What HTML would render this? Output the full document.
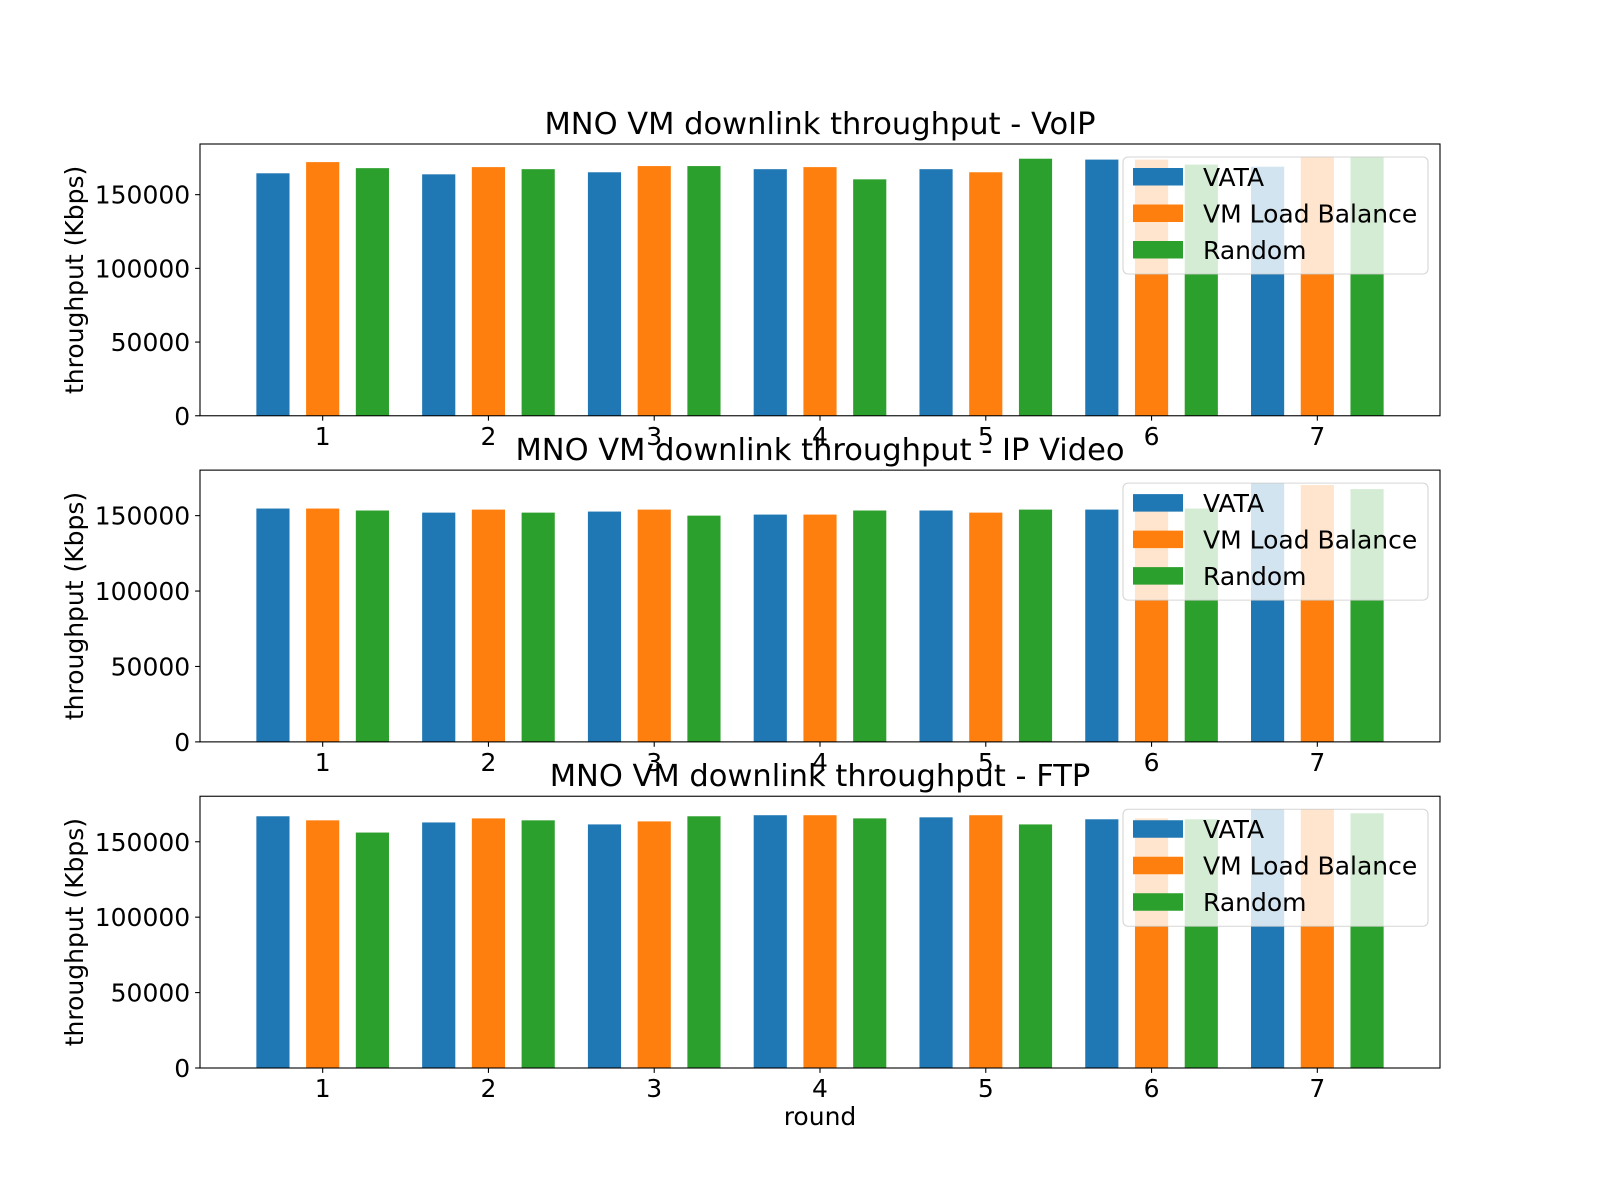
<!DOCTYPE html>
<html><head><meta charset="utf-8"><title>MNO VM downlink throughput</title>
<style>html,body{margin:0;padding:0;background:#fff}svg{display:block}text{font-family:"DejaVu Sans","Liberation Sans",sans-serif;fill:#000}</style>
</head><body>
<svg id="chart" width="1600" height="1200" xmlns="http://www.w3.org/2000/svg"></svg>
<script>
const categories = [1, 2, 3, 4, 5, 6, 7];
const seriesNames = ["VATA", "VM Load Balance", "Random"];
const panelTitles = ["MNO VM downlink throughput - VoIP", "MNO VM downlink throughput - IP Video", "MNO VM downlink throughput - FTP"];
const voipVATA = [164500, 163800, 165200, 167300, 167300, 173800, 169000];
const voipLB = [172100, 168700, 169400, 168700, 165200, 173800, 175600];
const voipRandom = [168000, 167300, 169400, 160400, 174400, 170400, 175600];
const videoVATA = [154700, 152000, 152700, 150700, 153400, 154000, 171600];
const videoLB = [154700, 154000, 154000, 150700, 152000, 154700, 170300];
const videoRandom = [153400, 152000, 150000, 153400, 154000, 154700, 167600];
const ftpVATA = [166900, 162800, 161500, 167600, 166200, 164900, 171600];
const ftpLB = [164200, 165500, 163500, 167600, 167600, 165500, 171600];
const ftpRandom = [156100, 164200, 166900, 165500, 161500, 164900, 168900];
const yTicks = [0, 50000, 100000, 150000];
const colors = ["#1f77b4", "#ff7f0e", "#2ca02c"];

const NS = "http://www.w3.org/2000/svg";
const svg = document.getElementById("chart");
function mk(tag, attrs, parent, text) {
  const e = document.createElementNS(NS, tag);
  for (const k in attrs) e.setAttribute(k, attrs[k]);
  if (text !== undefined) e.textContent = text;
  (parent || svg).appendChild(e);
  return e;
}
const L = 200, R = 1440, H = 271.76;
const tops = [144, 470.12, 796.24];
const panels = [[voipVATA, voipLB, voipRandom], [videoVATA, videoLB, videoRandom], [ftpVATA, ftpLB, ftpRandom]];
const offsets = [-0.3, 0, 0.3], bw = 0.2;
const xmin = 0.6 - 0.34, xmax = 7.4 + 0.34;
function xs(v) { return L + (v - xmin) / (xmax - xmin) * (R - L); }

panels.forEach((series, p) => {
  const top = tops[p], bot = top + H;
  let mx = 0; series.forEach(s => s.forEach(v => { if (v > mx) mx = v; }));
  const ymax = mx * 1.05;
  const ys = v => bot - v / ymax * H;
  const g = mk("g", {}, svg);
  
  
  series.forEach((s, si) => {
    s.forEach((v, ci) => {
      const r = mk("rect", { x: xs(categories[ci] + offsets[si] - bw / 2), y: ys(v), width: xs(bw) - xs(0), height: bot - ys(v), fill: colors[si] }, g);
      
      
    });
  });
  const frame = mk("rect", { x: L, y: top, width: R - L, height: H, fill: "none", stroke: "#000", "stroke-width": 1.1 }, g);
  
  
  yTicks.forEach(t => {
    const y = ys(t);
    mk("line", { x1: L, x2: L - 4.9, y1: y, y2: y, stroke: "#000", "stroke-width": 1.1 }, g);
    const tl = mk("text", { x: L - 9.8, y: y + 9, "text-anchor": "end", "font-size": 25 }, g, String(t));
    
    
  });
  categories.forEach(c => {
    const x = xs(c);
    mk("line", { x1: x, x2: x, y1: bot, y2: bot + 4.9, stroke: "#000", "stroke-width": 1.1 }, g);
    const tl = mk("text", { x: x, y: bot + 29, "text-anchor": "middle", "font-size": 25 }, g, String(c));
    
    
  });
  const yl = mk("text", { x: 0, y: 0, transform: "translate(83," + (top + H / 2) + ") rotate(-90)", "text-anchor": "middle", "font-size": 25 }, g, "throughput (Kbps)");
  
  
  const tt = mk("text", { x: (L + R) / 2, y: top - 10, "text-anchor": "middle", "font-size": 30.5 }, g, panelTitles[p]);
  
  
  const lg = mk("g", {}, g);
  
  
  const lx = 1123, ly = top + 13;
  mk("rect", { x: lx, y: ly, width: 305, height: 117, rx: 5, fill: "#fff", "fill-opacity": 0.8, stroke: "#ccc", "stroke-opacity": 0.8, "stroke-width": 1.1 }, lg);
  seriesNames.forEach((n, i) => {
    const cy = ly + 20 + i * 36.5;
    const e = mk("g", {}, lg);
    
    
    mk("rect", { x: 1133, y: cy - 9, width: 50, height: 17.5, fill: colors[i] }, e);
    mk("text", { x: 1203, y: cy + 9, "font-size": 25 }, e, n);
  });
});
const xl = mk("text", { x: (L + R) / 2, y: 1125, "text-anchor": "middle", "font-size": 25 }, svg, "round");


</script>
</body></html>
